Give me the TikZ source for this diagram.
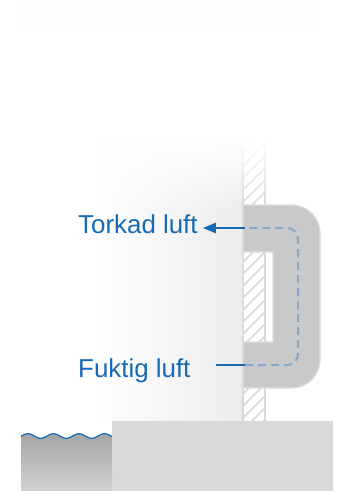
\documentclass[tikz,border=0pt]{standalone}
\usepackage{fontspec}
\setmainfont{Liberation Sans}
\usetikzlibrary{arrows.meta}

\definecolor{airblue}{RGB}{22,106,178}
\definecolor{loopblue}{RGB}{135,167,200}
\definecolor{unitgray}{RGB}{200,201,203}
\definecolor{unitedge}{RGB}{222,223,224}
\definecolor{floorgray}{RGB}{216,217,219}
\definecolor{hatchgray}{RGB}{216,216,216}
\definecolor{roomgray}{RGB}{236,236,236}

\begin{document}
\begin{tikzpicture}[x=1pt, y=-1pt,
    flow/.style={draw=airblue, line width=2.5pt},
    dashflow/.style={draw=loopblue, line width=2pt, dash pattern=on 8pt off 5pt},
    hatch/.style={draw=hatchgray, line width=1.5pt},
    wall/.style={draw=hatchgray, line width=1.5pt},
    airlabel/.style={font=\fontsize{25.9}{31}\selectfont, text=airblue, anchor=base west, inner xsep=5pt, inner ysep=0pt},
]
\useasboundingbox (0,0) rectangle (338,491);

% faint strip at the top
\fill[fill={rgb,255:red,253;green,253;blue,251}] (17,0) rectangle (318,25);

% room air in front of the wall
\shade[left color=white, right color=roomgray] (95,140) rectangle (243,421);

% hatched wall
\begin{scope}
  \clip (243,140) rectangle (265,421);
  \foreach \y in {130,142,...,460}
    \draw[hatch] (243,\y) -- ++(22,-22);
\end{scope}
\draw[wall] (243,140) -- (243,421) (265,140) -- (265,421);

% wall and room air fade out upwards
\foreach \i in {0,...,23} {
  \pgfmathsetmacro\op{1-\i/24}
  \fill[white, fill opacity=\op] (90,138+\i*3) rectangle (268,141+\i*3);
}

% floor and water
\fill[floorgray] (112,421) rectangle (333,491);
\shade[top color={rgb,255:red,163;green,164;blue,166}, bottom color={rgb,255:red,210;green,211;blue,213}]
  plot[domain=21:112, samples=80] (\x, {436-2.3*cos(14.1176*(\x-28))}) -- (112,491) -- (21,491) -- cycle;
\draw[airblue, line width=1.2pt]
  plot[domain=21:112, samples=80] (\x, {436-2.3*cos(14.1176*(\x-28))});

% dehumidifier unit round the wall
\path[fill=unitgray, draw=unitedge, line width=1.2pt, even odd rule]
  (243,205) -- (292,205) arc[start angle=-90, end angle=0, radius=28]
  -- (320,360) arc[start angle=0, end angle=90, radius=28]
  -- (243,388) -- cycle
  (243,252) rectangle (273,342);

% labels
\node[airlabel] (torkad) at (73,233) {Torkad luft};
\node[airlabel] (fuktig) at (73,377) {Fuktig luft};

% air path
\coordinate (dryWall) at (245,228);
\coordinate (loopTop) at (298,228);
\coordinate (loopBot) at (298,365);
\coordinate (wetWall) at (245,365);
\coordinate (wetIn) at (216,365);

\draw[dashflow, rounded corners=11pt] (wetWall) -- (loopBot) -- (loopTop) -- (dryWall);
\draw[flow, -{Triangle[length=13pt,width=10pt]}] (dryWall) -- (dryWall -| torkad.east);
\draw[flow] (wetIn) -- (wetWall);
\end{tikzpicture}
\end{document}
